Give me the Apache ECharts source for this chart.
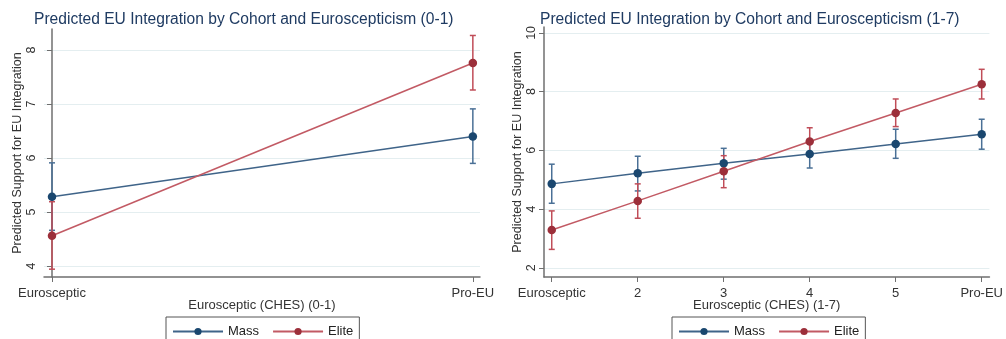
<!DOCTYPE html>
<html>
<head>
<meta charset="utf-8">
<script src="https://cdn.jsdelivr.net/npm/echarts@6/dist/echarts.min.js"></script>
<style>
  html, body { margin: 0; padding: 0; background: #fff; }
  #chart { width: 1006px; height: 339px; }
</style>
</head>
<body>
<div id="chart"></div>
<script>
const chart = echarts.init(document.getElementById("chart"));

// ==========================
// DATA
// ==========================

// left panel: Euroscepticism 0-1
const leftX = [0, 1];
const leftTickLabels = ["Eurosceptic", "Pro-EU"];
const leftYTicks = [4, 5, 6, 7, 8];
const leftMass = [5.28, 6.40];
const leftMassLo = [4.66, 5.90];
const leftMassHi = [5.91, 6.91];
const leftElite = [4.56, 7.76];
const leftEliteLo = [3.94, 7.26];
const leftEliteHi = [5.19, 8.27];

// right panel: Euroscepticism 1-7
const rightX = [1, 2, 3, 4, 5, 6];
const rightTickLabels = ["Eurosceptic", "2", "3", "4", "5", "Pro-EU"];
const rightYTicks = [2, 4, 6, 8, 10];
const rightMass = [4.86, 5.22, 5.56, 5.88, 6.22, 6.55];
const rightMassLo = [4.20, 4.62, 5.02, 5.40, 5.73, 6.04];
const rightMassHi = [5.53, 5.80, 6.07, 6.36, 6.72, 7.06];
const rightElite = [3.29, 4.28, 5.29, 6.30, 7.27, 8.25];
const rightEliteLo = [2.63, 3.69, 4.73, 5.82, 6.81, 7.75];
const rightEliteHi = [3.94, 4.86, 5.82, 6.77, 7.75, 8.76];

const NAVY = "#1a476f";
const NAVY_LINE = "#3f6489";
const MAROON = "#9c2f3a";
const MAROON_LINE = "#c25a64";
const FONT = "Liberation Sans";

// ==========================
// HELPERS
// ==========================

const pairs = (xs, ys) => xs.map((x, i) => [x, ys[i]]);
const triples = (xs, lo, hi) => xs.map((x, i) => [x, lo[i], hi[i]]);

function errRender(params, api) {
  const x = api.value(0);
  const lo = api.coord([x, api.value(1)]);
  const hi = api.coord([x, api.value(2)]);
  const w = 3;
  const style = { stroke: api.visual("color"), lineWidth: 1.5 };
  return {
    type: "group",
    children: [
      { type: "line", shape: { x1: lo[0], y1: lo[1], x2: hi[0], y2: hi[1] }, style },
      { type: "line", shape: { x1: lo[0] - w, y1: lo[1], x2: lo[0] + w, y2: lo[1] }, style },
      { type: "line", shape: { x1: hi[0] - w, y1: hi[1], x2: hi[0] + w, y2: hi[1] }, style }
    ]
  };
}

function xAxisFor(idx, xs, labels, min, max, name) {
  return {
    type: "value",
    gridIndex: idx,
    min, max,
    name,
    nameLocation: "middle",
    nameGap: 22,
    nameMoveOverlap: false,
    nameTextStyle: { fontFamily: FONT, fontSize: 13, color: "#333" },
    axisLine: { lineStyle: { color: "#6f6f6f", width: 1.5 } },
    axisTick: { customValues: xs, length: 5, lineStyle: { color: "#6f6f6f" } },
    axisLabel: {
      customValues: xs,
      margin: 10,
      fontFamily: FONT, fontSize: 13, color: "#333",
      formatter: v => labels[xs.indexOf(v)]
    },
    splitLine: { show: false }
  };
}

function yAxisFor(idx, ticks, min, max) {
  return {
    type: "value",
    gridIndex: idx,
    min, max,
    name: "Predicted Support for EU Integration",
    nameLocation: "middle",
    nameGap: 20,
    nameMoveOverlap: false,
    nameTextStyle: { fontFamily: FONT, fontSize: 12.5, color: "#333" },
    axisLine: { show: true, lineStyle: { color: "#6f6f6f", width: 1.5 } },
    axisTick: { show: true, customValues: ticks, length: 5, lineStyle: { color: "#6f6f6f" } },
    axisLabel: {
      customValues: ticks,
      rotate: 90,
      margin: 6,
      fontFamily: FONT, fontSize: 12.5, color: "#333"
    },
    splitLine: { show: true, lineStyle: { color: "#e4eef0", width: 1 } }
  };
}

function panelSeries(idx, xs, mass, massLo, massHi, elite, eliteLo, eliteHi) {
  const lineOpts = (name, data, lineColor, markColor) => ({
    name,
    type: "line",
    xAxisIndex: idx,
    yAxisIndex: idx,
    data: pairs(xs, data),
    symbol: "circle",
    symbolSize: 8.5,
    z: 3,
    lineStyle: { color: lineColor, width: 1.5 },
    itemStyle: { color: markColor },
    color: markColor,
    animation: false
  });
  const errOpts = (name, lo, hi, color) => ({
    name,
    type: "custom",
    xAxisIndex: idx,
    yAxisIndex: idx,
    data: triples(xs, lo, hi),
    renderItem: errRender,
    itemStyle: { color },
    z: 2,
    animation: false
  });
  return [
    errOpts("Mass CI", massLo, massHi, "#4a7096"),
    errOpts("Elite CI", eliteLo, eliteHi, "#c04d58"),
    lineOpts("Mass", mass, NAVY_LINE, NAVY),
    lineOpts("Elite", elite, MAROON_LINE, MAROON)
  ];
}

const legendFor = left => ({
  left,
  top: 317,
  data: ["Mass", "Elite"],
  itemWidth: 50,
  itemHeight: 9,
  itemGap: 13,
  padding: [8, 6, 12, 6],
  borderColor: "#555",
  borderWidth: 1,
  textStyle: { fontFamily: FONT, fontSize: 13, color: "#222" }
});

// ==========================
// OPTION
// ==========================

chart.setOption({
  backgroundColor: "#fff",
  title: [
    {
      text: "Predicted EU Integration by Cohort and Euroscepticism (0-1)",
      left: 29, top: 7,
      textStyle: { fontFamily: FONT, fontSize: 15.6, fontWeight: "normal", color: "#1f3b62" }
    },
    {
      text: "Predicted EU Integration by Cohort and Euroscepticism (1-7)",
      left: 535, top: 7,
      textStyle: { fontFamily: FONT, fontSize: 15.6, fontWeight: "normal", color: "#1f3b62" }
    }
  ],
  legend: [legendFor(166), legendFor(672)],
  grid: [
    { left: 44, right: 526, top: 29, bottom: 62 },
    { left: 544, right: 11, top: 27, bottom: 62 }
  ],
  xAxis: [
    xAxisFor(0, leftX, leftTickLabels, -0.019, 1.017, "Eurosceptic (CHES) (0-1)"),
    xAxisFor(1, rightX, rightTickLabels, 0.91, 6.09, "Eurosceptic (CHES) (1-7)")
  ],
  yAxis: [
    yAxisFor(0, leftYTicks, 3.795, 8.39),
    yAxisFor(1, rightYTicks, 1.69, 10.2)
  ],
  series: [
    ...panelSeries(0, leftX, leftMass, leftMassLo, leftMassHi, leftElite, leftEliteLo, leftEliteHi),
    ...panelSeries(1, rightX, rightMass, rightMassLo, rightMassHi, rightElite, rightEliteLo, rightEliteHi)
  ]
});
</script>
</body>
</html>
